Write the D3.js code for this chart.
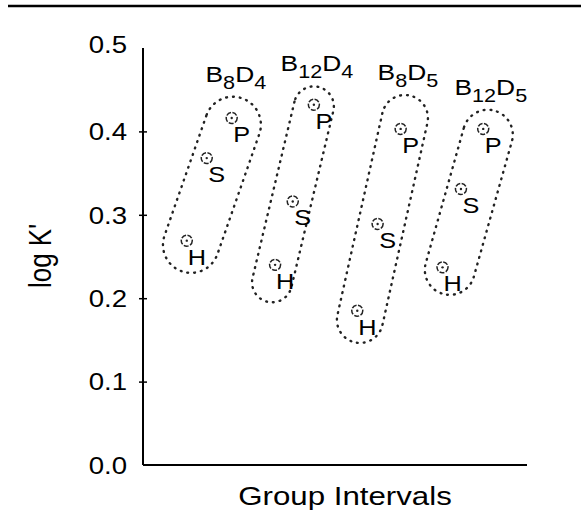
<!DOCTYPE html>
<html>
<head>
<meta charset="utf-8">
<script src="https://cdn.jsdelivr.net/npm/d3@7"></script>
<style>
  body { margin: 0; background: #fff; }
  text { font-family: "Liberation Sans", Arial, sans-serif; fill: #000; }
</style>
</head>
<body>
<div id="chart"></div>
<script>
// groups and the three points (P, S, H) of each
const groups = ["B8D4", "B12D4", "B8D5", "B12D5"];
const pointNames = ["P", "S", "H"];

// x is an arbitrary position along "Group Intervals" (0..100)
const pX = [23.1, 44.5, 67.1, 88.6];
const pY = [0.416, 0.432, 0.403, 0.403];
const sX = [16.6, 39.0, 61.1, 82.8];
const sY = [0.368, 0.316, 0.289, 0.331];
const hX = [11.4, 34.4, 55.8, 78.0];
const hY = [0.269, 0.240, 0.185, 0.237];

// dotted loops around each group: end centres and half width, in data units
const loopTop = [[23.4, 0.408], [44.5, 0.430], [68.2, 0.416], [89.8, 0.396]];
const loopBottom = [[12.5, 0.264], [33.6, 0.219], [56.5, 0.174], [79.9, 0.234]];
const loopHalf = [7.3, 5.2, 6.0, 6.5];

const yTicks = [0.0, 0.1, 0.2, 0.3, 0.4, 0.5];

function program() {
    var width = 581,
        height = 512;
    var SX = 1.2; // the text in the picture is a little stretched sideways

    var svg = d3.select("#chart")
        .append("svg")
        .attr("width", width)
        .attr("height", height);

    // top rule
    svg.append("line")
        .attr("x1", 8).attr("x2", width)
        .attr("y1", 6).attr("y2", 6)
        .attr("stroke", "#000")
        .attr("stroke-width", 2.5);

    var x = d3.scaleLinear().domain([0, 100]).range([143, 527]);
    var y = d3.scaleLinear().domain([0, 0.5]).range([465, 48]);

    // y axis with ticks crossing the line
    var yAxis = svg.append("g")
        .attr("transform", "translate(" + x(0) + ",0)")
        .call(d3.axisLeft(y).tickValues(yTicks).tickSize(4).tickFormat(d3.format(".1f")));
    yAxis.select(".domain").attr("stroke-width", 2).attr("d", "M0," + y(0.5) + "V" + y(0));
    yAxis.selectAll(".tick line")
        .attr("x1", -4).attr("x2", 4)
        .attr("stroke-width", 1.5)
        .attr("display", function(d) { return (d === 0 || d === 0.5) ? "none" : null; });
    yAxis.selectAll(".tick text").remove();

    yAxis.selectAll(".tick")
        .append("g")
        .attr("transform", function(d) {
            return "translate(-16," + (d === 0.5 ? -4 : 0) + ") scale(" + SX + ",1)";
        })
        .append("text")
        .attr("text-anchor", "end")
        .attr("dy", "0.36em")
        .style("font-size", "23px")
        .text(function(d) { return d3.format(".1f")(d); });

    // x axis: just a line
    svg.append("line")
        .attr("x1", x(0)).attr("x2", x(100))
        .attr("y1", y(0)).attr("y2", y(0))
        .attr("stroke", "#000")
        .attr("stroke-width", 2);

    // axis titles
    svg.append("g")
        .attr("transform", "translate(345,505) scale(1.25,1)")
        .append("text")
        .attr("text-anchor", "middle")
        .style("font-size", "25px")
        .text("Group Intervals");

    svg.append("text")
        .attr("transform", "translate(51,256) scale(1.2,1) rotate(-90)")
        .attr("text-anchor", "middle")
        .style("font-size", "26px")
        .text("log K'");

    // dotted loops
    var loops = groups.map(function(g, i) {
        var a = [x(loopTop[i][0]), y(loopTop[i][1])];
        var b = [x(loopBottom[i][0]), y(loopBottom[i][1])];
        var r = x(loopHalf[i]) - x(0);
        return { name: g, a: a, b: b, r: r };
    });

    function capsule(d) {
        var dx = d.b[0] - d.a[0], dy = d.b[1] - d.a[1];
        var len = Math.sqrt(dx * dx + dy * dy);
        var nx = -dy / len * d.r, ny = dx / len * d.r;
        var p = d3.path();
        p.moveTo(d.a[0] + nx, d.a[1] + ny);
        p.lineTo(d.b[0] + nx, d.b[1] + ny);
        var ang = Math.atan2(ny, nx);
        p.arc(d.b[0], d.b[1], d.r, ang, ang + Math.PI, true);
        p.lineTo(d.a[0] - nx, d.a[1] - ny);
        p.arc(d.a[0], d.a[1], d.r, ang + Math.PI, ang, true);
        p.closePath();
        return p.toString();
    }

    svg.append("g")
        .selectAll("path")
        .data(loops)
        .join("path")
        .attr("d", capsule)
        .attr("fill", "none")
        .attr("stroke", "#222")
        .attr("stroke-width", 2.4)
        .attr("stroke-linecap", "round")
        .attr("stroke-dasharray", "0.8,6");

    // group labels with subscripts
    var labels = svg.append("g")
        .selectAll("g")
        .data(loops)
        .join("g")
        .attr("transform", function(d) {
            var top = d.a[1] - d.r;
            return "translate(" + (d.a[0] + 3) + "," + (top - 15) + ") scale(" + SX + ",1)";
        })
        .append("text")
        .attr("text-anchor", "middle")
        .style("font-size", "22px");

    labels.each(function(d) {
        var m = d.name.match(/B(\d+)D(\d+)/);
        var t = d3.select(this);
        t.append("tspan").text("B");
        t.append("tspan").attr("dy", 7).style("font-size", "18px").text(m[1]);
        t.append("tspan").attr("dy", -7).text("D");
        t.append("tspan").attr("dy", 7).style("font-size", "18px").text(m[2]);
    });

    // points
    var pts = [];
    groups.forEach(function(g, i) {
        pts.push({ name: "P", x: pX[i], y: pY[i] });
        pts.push({ name: "S", x: sX[i], y: sY[i] });
        pts.push({ name: "H", x: hX[i], y: hY[i] });
    });

    var marks = svg.append("g")
        .selectAll("g")
        .data(pts)
        .join("g")
        .attr("transform", function(d) { return "translate(" + x(d.x) + "," + y(d.y) + ")"; });

    marks.append("circle")
        .attr("r", 5.5)
        .attr("fill", "none")
        .attr("stroke", "#222")
        .attr("stroke-width", 1.5)
        .attr("stroke-dasharray", "5,1.5");

    marks.append("circle")
        .attr("r", 1.2)
        .attr("fill", "#222");

    marks.append("g")
        .attr("transform", "translate(10,24) scale(1.15,1)")
        .append("text")
        .attr("text-anchor", "middle")
        .style("font-size", "22px")
        .text(function(d) { return d.name; });
}

program();
</script>
</body>
</html>
